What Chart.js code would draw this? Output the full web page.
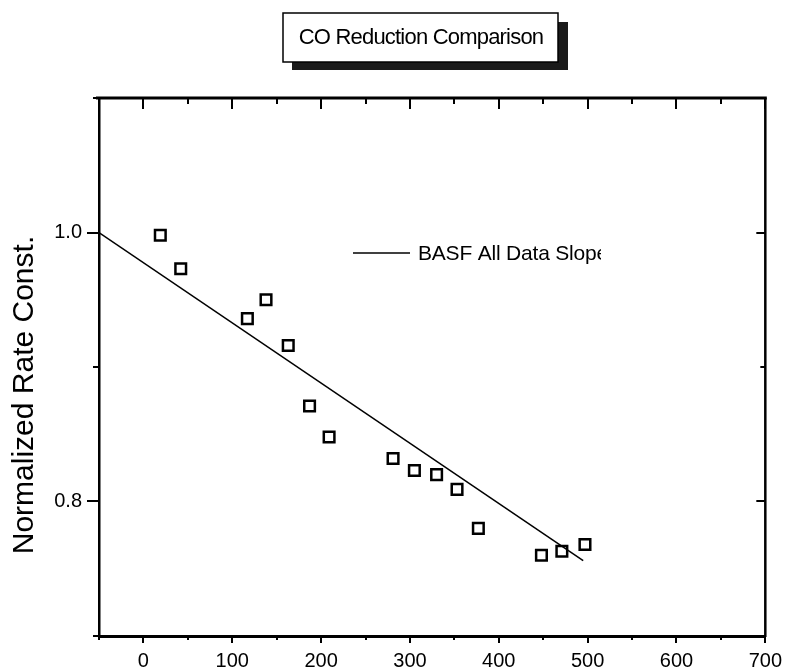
<!DOCTYPE html>
<html>
<head>
<meta charset="utf-8">
<title>CO Reduction Comparison</title>
<script src="https://cdn.jsdelivr.net/npm/chart.js@4.4.1/dist/chart.umd.min.js"></script>
<style>
  html, body { margin: 0; padding: 0; background: #fff; }
  canvas { display: block; }
</style>
</head>
<body>
<canvas id="rate-graph" width="788" height="671"></canvas>
<script>
// measured points
var hours = [19, 42, 117, 138, 163, 187, 209, 281, 305, 330, 353, 377, 448, 471, 497];
var rateConst = [0.998, 0.973, 0.936, 0.950, 0.916, 0.871, 0.848, 0.832, 0.823, 0.820, 0.809, 0.780, 0.760, 0.763, 0.768];

// fitted slope over all data
var slopeHours = [-50, 495];
var slopeRate = [1.0, 0.756];

var xTickLabels = [0, 100, 200, 300, 400, 500, 600, 700];
var yTickLabels = ['0.8', '1.0'];

var chartTitle = 'CO Reduction Comparison';
var yTitle = 'Normalized Rate Const.';
var FONT = '"Liberation Sans", Arial, Helvetica, sans-serif';

function toXY(xs, ys){
      var out = [];
      for (var i = 0; i < xs.length; i++) out.push({x: xs[i], y: ys[i]});
      return out;
}

// box title, top/right frame, tick marks, legend, y title
var decorations = {
      id: 'decorations',
      afterDraw: function(chart){
            var ctx = chart.ctx;
            var a = chart.chartArea;
            var xs = chart.scales.x, ys = chart.scales.y;

            function seg(x1, y1, x2, y2){
                  ctx.beginPath(); ctx.moveTo(x1, y1); ctx.lineTo(x2, y2); ctx.stroke();
            }

            ctx.save();
            ctx.strokeStyle = '#000';
            ctx.lineCap = 'butt';

            ctx.lineWidth = 3;
            seg(a.left - 3, a.top, a.right + 1.5, a.top);
            ctx.lineWidth = 2.5;
            seg(a.right, a.top, a.right, a.bottom + 1);

            ctx.lineWidth = 2;
            for (var v = -50; v <= 700; v += 50) {
                  var px = Math.round(xs.getPixelForValue(v));
                  var major = v % 100 === 0;
                  seg(px, a.bottom, px, a.bottom + (major ? 7 : 4));
                  seg(px, a.top, px, a.top + (major ? 11 : 6));
            }
            for (var i = 7; i <= 11; i++) {
                  var py = Math.round(ys.getPixelForValue(i / 10));
                  var maj = i % 2 === 0;
                  seg(a.left - (maj ? 12 : 6), py, a.left, py);
                  seg(a.right - (maj ? 9 : 5), py, a.right, py);
            }

            // legend entry for the slope line
            var slope = chart.data.datasets[1];
            ctx.lineWidth = 1.5;
            seg(353, 253, 410, 253);
            ctx.save();
            ctx.beginPath(); ctx.rect(414, 235, 187, 40); ctx.clip();
            ctx.fillStyle = '#000';
            ctx.font = '21px ' + FONT;
            ctx.letterSpacing = '-0.2px';
            ctx.textAlign = 'left';
            ctx.textBaseline = 'middle';
            ctx.fillText(slope.label, 418, 254);
            ctx.restore();

            // y axis title
            ctx.save();
            ctx.translate(25, 395);
            ctx.rotate(-Math.PI / 2);
            ctx.fillStyle = '#000';
            ctx.font = '30px ' + FONT;
            ctx.textAlign = 'center';
            ctx.textBaseline = 'middle';
            ctx.fillText(yTitle, 0, 0);
            ctx.restore();

            // boxed title with drop shadow
            ctx.fillStyle = '#1a1a1a';
            ctx.fillRect(292, 22, 276, 48);
            ctx.fillStyle = '#fff';
            ctx.fillRect(283, 13, 275, 49);
            ctx.lineWidth = 1.5;
            ctx.strokeRect(283, 13, 275, 49);
            ctx.fillStyle = '#000';
            ctx.font = '22px ' + FONT;
            ctx.letterSpacing = '-0.8px';
            ctx.textAlign = 'center';
            ctx.textBaseline = 'middle';
            ctx.fillText(chartTitle, 421, 38);
            ctx.restore();
      }
};

var ctx1 = document.getElementById('rate-graph');

var rateChart = new Chart(ctx1, {
      type: 'scatter',
      data: {
            datasets: [
            {
                  label: 'Measured',
                  data: toXY(hours, rateConst),
                  pointStyle: 'rect',
                  pointRadius: 7.5,
                  pointBorderWidth: 2.5,
                  borderColor: '#000',
                  backgroundColor: 'rgba(255,255,255,0)',
                  showLine: false
            },
            {
                  label: 'BASF All Data Slope',
                  data: toXY(slopeHours, slopeRate),
                  showLine: true,
                  pointRadius: 0,
                  borderColor: '#000',
                  borderWidth: 1.5,
                  fill: false
            }]
      },
      options: {
            responsive: false,
            animation: false,
            layout: { padding: { top: 98, right: 20, left: 0, bottom: 0 } },
            plugins: {
                  legend: { display: false },
                  tooltip: { enabled: false }
            },
            scales: {
                  x: {
                        type: 'linear',
                        position: 'bottom',
                        min: -50,
                        max: 700,
                        afterFit: function(scale){ scale.height = 35; },
                        grid: { display: true, drawOnChartArea: false, drawTicks: true, tickLength: 7, tickColor: 'rgba(0,0,0,0)' },
                        border: { display: true, color: '#000', width: 3 },
                        ticks: {
                              stepSize: 50,
                              autoSkip: false,
                              maxRotation: 0,
                              padding: 6,
                              color: '#000',
                              font: { family: FONT, size: 20 },
                              callback: function(value){
                                    return xTickLabels.indexOf(value) >= 0 ? String(value) : '';
                              }
                        }
                  },
                  y: {
                        type: 'linear',
                        position: 'left',
                        min: 0.7,
                        max: 1.1,
                        afterFit: function(scale){ scale.width = 99; },
                        grid: { display: true, drawOnChartArea: false, drawTicks: true, tickLength: 12, tickColor: 'rgba(0,0,0,0)' },
                        border: { display: true, color: '#000', width: 2.5 },
                        ticks: {
                              stepSize: 0.1,
                              autoSkip: false,
                              padding: 5,
                              color: '#000',
                              font: { family: FONT, size: 20 },
                              callback: function(value){
                                    var s = (Math.round(value * 10) / 10).toFixed(1);
                                    return yTickLabels.indexOf(s) >= 0 ? s : '';
                              }
                        }
                  }
            }
      },
      plugins: [decorations]
});
</script>
</body>
</html>
